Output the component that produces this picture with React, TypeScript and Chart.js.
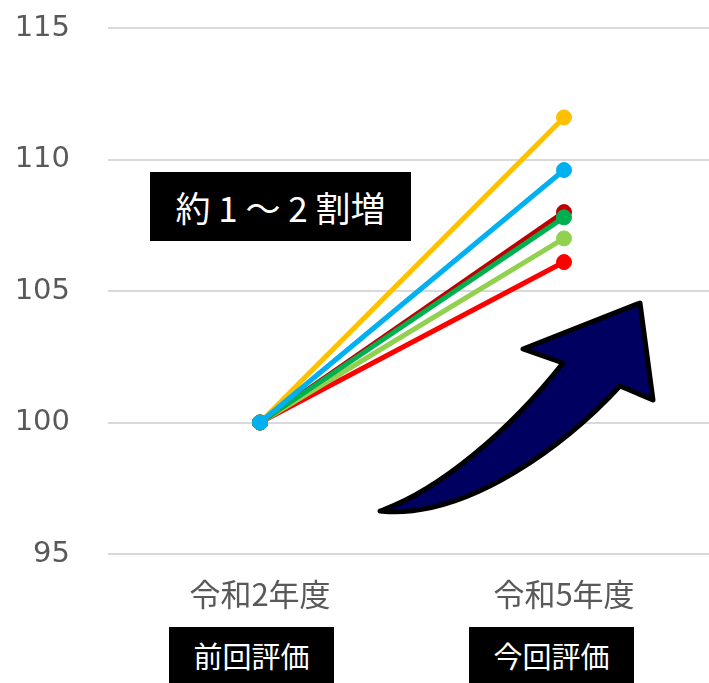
import React, { useEffect, useRef } from "react";
import { Chart, registerables } from "chart.js";

Chart.register(...registerables);

const categories = ["令和2年度", "令和5年度"];
const yTicks = [95, 100, 105, 110, 115];
const yellowValues = [100, 111.6];
const blueValues = [100, 109.6];
const darkRedValues = [100, 108.0];
const greenValues = [100, 107.8];
const lightGreenValues = [100, 107.0];
const redValues = [100, 106.1];
const seriesColors = ["#00B0F0", "#00B050", "#C00000", "#FFC000", "#92D050", "#FF0000"];
const seriesValues = [blueValues, greenValues, darkRedValues, yellowValues, lightGreenValues, redValues];
const calloutText = ["約", "1", "～", "2", "割増"];
const prevLabel = "前回評価";
const currLabel = "今回評価";

const cjk = '"Noto Sans CJK JP", "Noto Sans", sans-serif';

export default function App() {
  const ref = useRef<HTMLCanvasElement | null>(null);
  useEffect(() => {
    if (!ref.current) return;
    const chart = new Chart(ref.current, {
      type: "line",
      data: {
        labels: categories,
        datasets: seriesValues.map((vals, i) => ({
          label: "s" + i,
          data: vals,
          borderColor: seriesColors[i],
          backgroundColor: seriesColors[i],
          borderWidth: 5,
          pointRadius: 7.5,
          pointBorderWidth: 1,
          pointHoverRadius: 7.5,
          fill: false,
          tension: 0,
        })),
      },
      options: {
        animation: false,
        responsive: false,
        maintainAspectRatio: false,
        events: [],
        layout: { autoPadding: false, padding: { top: 28, right: 0, left: 0, bottom: 0 } },
        plugins: { legend: { display: false }, tooltip: { enabled: false } },
        scales: {
          x: {
            offset: true,
            grid: { display: false, drawTicks: false },
            border: { display: false },
            ticks: {
              color: "#595959",
              font: { family: cjk, size: 31 },
              padding: 22,
              maxRotation: 0,
            },
            afterFit: (s: any) => {
              s.height = 129;
            },
          },
          y: {
            min: 95,
            max: 115,
            afterBuildTicks: (s: any) => {
              s.ticks = yTicks.map((v) => ({ value: v }));
            },
            grid: {
              color: "#d9d9d9",
              lineWidth: 2,
              drawTicks: true,
              tickLength: 38,
              tickColor: "rgba(0,0,0,0)",
            },
            border: { display: false },
            ticks: {
              color: "#595959",
              font: { family: '"DejaVu Sans", sans-serif', size: 29 },
              padding: 0,
            },
            afterFit: (s: any) => {
              s.width = 108;
            },
          },
        },
      },
    });
    return () => chart.destroy();
  }, []);

  const boxStyle = (left: number, top: number, w: number, h: number, size: number): React.CSSProperties => ({
    position: "absolute",
    left,
    top,
    width: w,
    height: h,
    background: "#000",
    color: "#fff",
    display: "flex",
    alignItems: "center",
    justifyContent: "center",
    fontFamily: cjk,
    fontSize: size,
    lineHeight: 1,
    whiteSpace: "nowrap",
  });

  return (
    <div style={{ position: "fixed", left: 0, top: 0, width: 709, height: 683, overflow: "hidden", background: "#fff" }}>
      <canvas ref={ref} width={716} height={683} style={{ position: "absolute", left: 0, top: 0 }} />
      <div style={boxStyle(150, 172, 261, 69, 35)}>
        {calloutText.map((t, i) =>
          t === "1" || t === "2" ? (
            <span key={i} style={{ display: "inline-block", width: "1em", textAlign: "center" }}>{t}</span>
          ) : (
            <span key={i}>{t}</span>
          )
        )}
      </div>
      <div style={boxStyle(169, 627, 165, 56, 29)}>{prevLabel}</div>
      <div style={boxStyle(469, 627, 165, 56, 29)}>{currLabel}</div>
      <svg width={709} height={683} style={{ position: "absolute", left: 0, top: 0, pointerEvents: "none" }}>
        <path
          d="M 380 511 C 440 490, 510 430, 563 363 L 523 349 L 640 303 L 653 400 L 620 386 C 570 440, 470 520, 380 511 Z"
          fill="#000060"
          stroke="#000"
          strokeWidth={5}
          strokeLinejoin="round"
        />
      </svg>
    </div>
  );
}
